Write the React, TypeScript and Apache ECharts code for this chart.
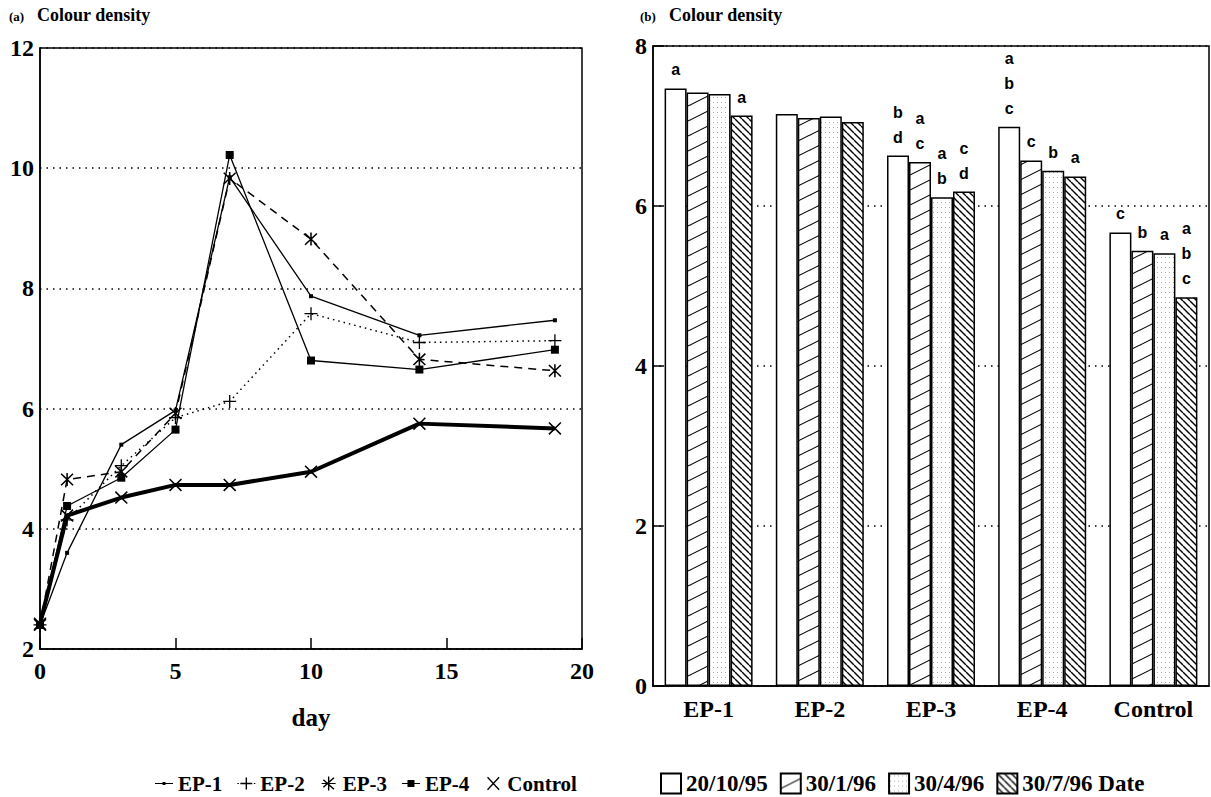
import React, { useEffect, useRef } from "react";
import * as echarts from "echarts";

// ---------- Data: panel (a) ----------
const days = [0, 1, 3, 5, 7, 10, 14, 19];
const ep1Line = [2.4, 3.6, 5.4, 5.97, 9.85, 7.87, 7.22, 7.47];
const ep2Line = [2.4, 4.15, 5.05, 5.85, 6.12, 7.58, 7.1, 7.13];
const ep3Line = [2.4, 4.82, 4.95, 5.92, 9.83, 8.82, 6.82, 6.63];
const ep4Line = [2.4, 4.38, 4.85, 5.65, 10.22, 6.8, 6.65, 6.98];
const controlLine = [2.42, 4.22, 4.52, 4.73, 4.73, 4.95, 5.75, 5.67];
const lineNames = ["EP-1", "EP-2", "EP-3", "EP-4", "Control"];

// ---------- Data: panel (b) ----------
const categories = ["EP-1", "EP-2", "EP-3", "EP-4", "Control"];
const dateNames = ["20/10/95", "30/1/96", "30/4/96", "30/7/96"];
const bars1 = [7.47, 7.15, 6.63, 6.99, 5.67];
const bars2 = [7.42, 7.1, 6.55, 6.57, 5.44];
const bars3 = [7.4, 7.12, 6.11, 6.44, 5.41];
const bars4 = [7.13, 7.05, 6.18, 6.37, 4.86];
const letters1 = ["a", "", "b\nd", "a\nb\nc", "c"];
const letters2 = ["", "", "a\nc", "c", "b"];
const letters3 = ["", "", "a\nb", "b", "a"];
const letters4 = ["a", "", "c\nd", "a", "a\nb\nc"];

const SERIF = "Liberation Serif";
const SANS = "Liberation Sans";

const PLUS = "path://M-0.8,-8H0.8V-0.8H8V0.8H0.8V8H-0.8V0.8H-8V-0.8H-0.8Z";
const CROSS =
  "path://M-6.36,-7.64L7.64,6.36L6.36,7.64L-7.64,-6.36ZM7.64,-6.36L-6.36,7.64L-7.64,6.36L6.36,-7.64Z";
const STAR =
  "path://M-6.36,-7.64L7.64,6.36L6.36,7.64L-7.64,-6.36ZM7.64,-6.36L-6.36,7.64L-7.64,6.36L6.36,-7.64ZM-0.9,-8H0.9V8H-0.9Z";

// legend icons (line + marker), drawn in an 18 x 14 box
const ICON_EP1 = "path://M0,0H0.01V0.01H0ZM0,6.5H18V7.5H0ZM7.5,5.5H10.5V8.5H7.5ZM17.99,13.99H18V14H17.99Z";
const ICON_EP2 =
  "path://M0,0H0.01V0.01H0ZM0,6.5H1.5V7.5H0ZM3,6.5H4.5V7.5H3ZM13.5,6.5H15V7.5H13.5ZM16.5,6.5H18V7.5H16.5ZM8.3,1H9.7V13H8.3ZM3,6.3H15V7.7H3ZM17.99,13.99H18V14H17.99Z";
const ICON_EP3 =
  "path://M0,0H0.01V0.01H0ZM2,6.5H16V7.5H2ZM4.2,2.8L14.8,12.2L13.8,13.2L3.2,3.8ZM13.8,0.8L14.8,1.8L4.2,11.2L3.2,10.2ZM8.3,0H9.7V14H8.3ZM17.99,13.99H18V14H17.99Z";
const ICON_EP4 = "path://M0,0H0.01V0.01H0ZM0,6.4H18V7.6H0ZM5.5,3.5H12.5V10.5H5.5ZM17.99,13.99H18V14H17.99Z";
const ICON_CTRL =
  "path://M0,0H0.01V0.01H0ZM3.7,0.3L15.3,12.7L14.3,13.7L2.7,1.3ZM14.3,0.3L15.3,1.3L3.7,13.7L2.7,12.7ZM17.99,13.99H18V14H17.99Z";
const lineIcons = [ICON_EP1, ICON_EP2, ICON_EP3, ICON_EP4, ICON_CTRL];

function makeTile(w: number, h: number, draw: (c: CanvasRenderingContext2D) => void) {
  const cv = document.createElement("canvas");
  cv.width = w;
  cv.height = h;
  const c = cv.getContext("2d")!;
  c.fillStyle = "#fff";
  c.fillRect(0, 0, w, h);
  draw(c);
  return cv;
}

export default function App() {
  const ref = useRef<HTMLDivElement>(null);

  useEffect(() => {
    document.body.style.margin = "0";
    const chart = echarts.init(ref.current!, null, { renderer: "svg" });

    const slashTile = makeTile(30, 15, (c) => {
      c.strokeStyle = "#000";
      c.lineWidth = 1.1;
      for (const dx of [-30, 0, 30]) {
        for (const dy of [-15, 0, 15]) {
          c.beginPath();
          c.moveTo(dx, 15 + dy);
          c.lineTo(dx + 30, dy);
          c.stroke();
        }
      }
    });
    const backTile = makeTile(7, 7, (c) => {
      c.strokeStyle = "#000";
      c.lineWidth = 1.4;
      for (const dx of [-7, 0, 7]) {
        c.beginPath();
        c.moveTo(dx, 0);
        c.lineTo(dx + 7, 7);
        c.stroke();
      }
    });
    const dotTile = makeTile(4, 5, (c) => {
      c.fillStyle = "#a8a8a8";
      c.fillRect(1, 2, 1, 1);
    });

    const fills: any[] = [
      "#ffffff",
      { image: slashTile, repeat: "repeat" },
      { image: dotTile, repeat: "repeat" },
      { image: backTile, repeat: "repeat" },
    ];
    const barData = [bars1, bars2, bars3, bars4];
    const letterData = [letters1, letters2, letters3, letters4];

    const numRich = {
      v: { fontFamily: SERIF, fontWeight: "bold", fontSize: 24, color: "#000" },
    };
    const axisLabelStyle = {
      fontFamily: SERIF,
      fontWeight: "bold",
      fontSize: 24,
      color: "#000",
    };
    const dotted = { type: [1.5, 5] as any, color: "#000", width: 1.5 };

    const lineSeries = [
      { name: "EP-1", data: ep1Line, symbol: "rect", symbolSize: 4, lineStyle: { width: 1.3, type: "solid" } },
      { name: "EP-2", data: ep2Line, symbol: PLUS, symbolSize: 13, lineStyle: { width: 1.5, type: [1.5, 4] } },
      { name: "EP-3", data: ep3Line, symbol: STAR, symbolSize: 13, lineStyle: { width: 1.5, type: [8, 6] } },
      { name: "EP-4", data: ep4Line, symbol: "rect", symbolSize: 8, lineStyle: { width: 1.3, type: "solid" } },
      { name: "Control", data: controlLine, symbol: CROSS, symbolSize: 13, lineStyle: { width: 4, type: "solid" } },
    ].map((s) => ({
      type: "line",
      name: s.name,
      xAxisIndex: 0,
      yAxisIndex: 0,
      data: days.map((d, i) => [d, s.data[i]]),
      symbol: s.symbol,
      symbolSize: s.symbolSize,
      showSymbol: true,
      itemStyle: { color: "#000", borderWidth: 0 },
      lineStyle: { color: "#000", ...s.lineStyle },
      z: 3,
    }));

    const barSeries = dateNames.map((name, k) => ({
      type: "bar",
      name,
      xAxisIndex: 1,
      yAxisIndex: 1,
      data: barData[k],
      barWidth: 22,
      barGap: "0%",
      itemStyle: { color: fills[k], borderColor: "#000", borderWidth: 1.5 },
      label: {
        show: true,
        position: "top",
        distance: 6,
        formatter: (p: any) => letterData[k][p.dataIndex],
        fontFamily: SANS,
        fontWeight: "bold",
        fontSize: 16,
        lineHeight: 25,
        color: "#000",
      },
      z: 3,
    }));

    const headText = (x: number, y: number, text: string, size: number) => ({
      type: "text",
      x,
      y,
      style: {
        text,
        fontFamily: SERIF,
        fontWeight: "bold",
        fontSize: size,
        fill: "#000",
        verticalAlign: "middle",
      },
    });

    const option: any = {
      animation: false,
      backgroundColor: "#ffffff",
      textStyle: { fontFamily: SERIF, fontWeight: "bold", color: "#000" },
      graphic: [
        headText(9, 16, "(a)", 13),
        headText(37, 15, "Colour density", 18),
        headText(640, 16, "(b)", 13),
        headText(669, 15, "Colour density", 18),
      ],
      grid: [
        { left: 40, top: 48, width: 542, height: 601, show: true, borderColor: "#000", borderWidth: 1.5, backgroundColor: "transparent" },
        { left: 653, top: 46, width: 556, height: 640, show: true, borderColor: "#000", borderWidth: 1.5, backgroundColor: "transparent" },
      ],
      xAxis: [
        {
          type: "value",
          gridIndex: 0,
          min: 0,
          max: 20,
          interval: 5,
          name: "day",
          nameLocation: "middle",
          nameGap: 56,
          nameTextStyle: { fontFamily: SERIF, fontWeight: "bold", fontSize: 25, color: "#000" },
          axisLine: { lineStyle: { color: "#000", width: 1.5 } },
          axisTick: { show: true, inside: true, length: 11, lineStyle: { color: "#000", width: 1.5 } },
          axisLabel: { ...axisLabelStyle, margin: 10, formatter: (v: number) => `{v|${v}}`, rich: numRich },
          splitLine: { show: false },
        },
        {
          type: "category",
          gridIndex: 1,
          data: categories,
          axisLine: { lineStyle: { color: "#000", width: 1.5 } },
          axisTick: { show: false },
          axisLabel: { ...axisLabelStyle, margin: 11 },
          splitLine: { show: false },
        },
      ],
      yAxis: [
        {
          type: "value",
          gridIndex: 0,
          min: 2,
          max: 12,
          interval: 2,
          axisLine: { show: true, lineStyle: { color: "#000", width: 1.5 } },
          axisTick: { show: false },
          axisLabel: { ...axisLabelStyle, margin: 6, formatter: (v: number) => `{v|${v}}`, rich: numRich },
          splitLine: { show: true, lineStyle: dotted },
        },
        {
          type: "value",
          gridIndex: 1,
          min: 0,
          max: 8,
          interval: 2,
          axisLine: { show: true, lineStyle: { color: "#000", width: 1.5 } },
          axisTick: { show: true, inside: true, length: 11, lineStyle: { color: "#000", width: 1.5 } },
          axisLabel: { ...axisLabelStyle, margin: 6, formatter: (v: number) => `{v|${v}}`, rich: numRich },
          splitLine: { show: true, lineStyle: dotted },
        },
      ],
      legend: [
        {
          data: lineNames.map((n, i) => ({ name: n, icon: lineIcons[i] })),
          left: 150,
          top: 768,
          itemWidth: 18,
          itemHeight: 14,
          itemGap: 15,
          textStyle: { fontFamily: SERIF, fontWeight: "bold", fontSize: 21, color: "#000" },
        },
        {
          data: dateNames,
          icon: "rect",
          left: 655,
          top: 767,
          itemWidth: 20,
          itemHeight: 20,
          itemGap: 12,
          formatter: (n: string) => (n === dateNames[dateNames.length - 1] ? n + " Date" : n),
          textStyle: { fontFamily: SERIF, fontWeight: "bold", fontSize: 23, color: "#000" },
        },
      ],
      series: [...lineSeries, ...barSeries],
    };

    chart.setOption(option);
    return () => chart.dispose();
  }, []);

  return <div ref={ref} style={{ width: 1211, height: 797 }} />;
}
